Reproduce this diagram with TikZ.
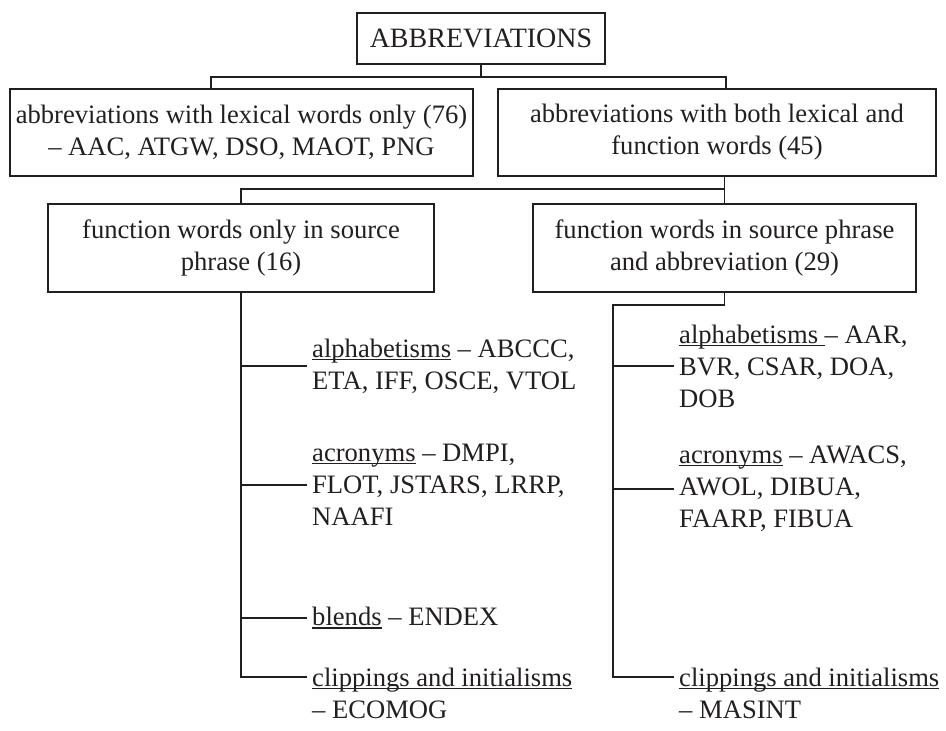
\documentclass[tikz,border=0pt]{standalone}
\usepackage{fontspec}
\setmainfont{Liberation Serif}

\definecolor{ink}{HTML}{231F20}
\newcommand{\bodyfont}{\fontsize{26.6}{32}\selectfont}
\newcommand{\topfont}{\fontsize{28}{34}\selectfont}
% underline that sits just under the baseline
\newcommand{\ulword}[1]{\sbox0{#1}\rlap{\rule[-2.6pt]{\wd0}{1.1pt}}\usebox0}

\begin{document}
\begin{tikzpicture}[x=1pt, y=-1pt, ink,
  box/.style={draw, line width=1.2pt, align=center, inner sep=0pt, font=\bodyfont},
  item/.style={anchor=west, align=left, inner xsep=5pt, inner ysep=0pt, font=\bodyfont},
  link/.style={line width=1.6pt}]

\useasboundingbox (0,0) rectangle (946,731);

% Top of the tree
\node [box, minimum width=248pt, minimum height=51pt, font=\topfont] (abbr) at (481,38.5) {ABBREVIATIONS};
\node [box, minimum width=463pt, minimum height=87pt] (lex) at (241.5,132.5)
  {abbreviations with lexical words only (76)\\– AAC, ATGW, DSO, MAOT, PNG};
\node [box, minimum width=438pt, minimum height=87pt] (mix) at (717,132.5)
  {abbreviations with both lexical and\\function words (45)};

% Second level
\node [box, minimum width=386pt, minimum height=88pt] (fonly) at (241,248)
  {function words only in source\\phrase (16)};
\node [box, minimum width=383pt, minimum height=88pt] (fboth) at (724.5,248)
  {function words in source phrase\\and abbreviation (29)};

% Connectors between the boxes
\coordinate (jl) at (211,77);
\coordinate (jr) at (726,77);
\coordinate (jm) at (0,189);
\draw [link] (abbr.south) -- (abbr.south |- jl);
\draw [link] (jl |- lex.north) -- (jl) -- (jr) -- (jr |- mix.north);
\draw [link] (fboth.north |- mix.south) -- (fboth.north);
\draw [link] (fonly.north) -- (fonly.north |- jm) -- (fboth.north |- jm);

% Left list (base of a two-line node is its last line)
\node [item] (la) at (307,366) {\ulword{alphabetisms} – ABCCC,\\ETA, IFF, OSCE, VTOL};
\node [item] (lb) at (307,485) {\ulword{acronyms} – DMPI,\\FLOT, JSTARS, LRRP,\\NAAFI};
\node [item] (lc) at (307,618) {\ulword{blends} – ENDEX};
\node [item, anchor=base west] (ld) at (307,718) {\ulword{clippings and initialisms}\\– ECOMOG};

\draw [link] (fonly.south) |- ([yshift=41pt]ld.base west);
\foreach \n in {la, lb, lc} {
  \draw [link] (fonly.south |- \n.west) -- (\n.west);
}

% Right list
\coordinate (rs) at (613,305);
\node [item] (ra) at (674,366) {\ulword{alphabetisms\ }– AAR,\\BVR, CSAR, DOA,\\DOB};
\node [item] (rb) at (674,489) {\ulword{acronyms} – AWACS,\\AWOL, DIBUA,\\FAARP, FIBUA};
\node [item, anchor=base west] (rd) at (674,718) {\ulword{clippings and initialisms}\\– MASINT};

\draw [link] (fboth.south) -- (fboth.south |- rs) -- (rs) |- ([yshift=41pt]rd.base west);
\foreach \n in {ra, rb} {
  \draw [link] (rs |- \n.west) -- (\n.west);
}
\end{tikzpicture}
\end{document}
